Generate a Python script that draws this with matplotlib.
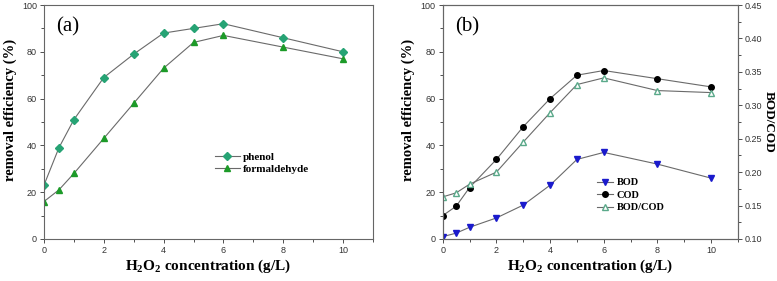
import numpy as np
import matplotlib
matplotlib.use("Agg")
import matplotlib.pyplot as plt
from matplotlib.ticker import MultipleLocator, FormatStrFormatter

# data
h2o2 = [0, 0.5, 1, 2, 3, 4, 5, 6, 8, 10]
phenol = [23, 39, 51, 69, 79, 88, 90, 92, 86, 80]
formaldehyde = [16, 21, 28, 43, 58, 73, 84, 87, 82, 77]
bod = [1, 2.5, 5, 9, 14.5, 23, 34, 37, 32, 26]
cod = [10, 14, 22, 34, 48, 60, 70, 72, 68.5, 65]
bod_cod = [0.163, 0.169, 0.182, 0.200, 0.245, 0.289, 0.331, 0.341, 0.322, 0.319]

serif = "Liberation Serif"
sans = "Liberation Sans"
line_col = "#6a6a6a"
spine_col = "#666666"

plt.rcParams["mathtext.fontset"] = "custom"
plt.rcParams["mathtext.rm"] = serif + ":bold"
plt.rcParams["mathtext.it"] = serif + ":bold"
plt.rcParams["mathtext.bf"] = serif + ":bold"

fig = plt.figure(figsize=(7.77, 2.81), dpi=100)
ax1 = fig.add_axes([0.0566, 0.1495, 0.4234, 0.8327])
ax2 = fig.add_axes([0.5698, 0.1495, 0.3800, 0.8327])


def ticks(ax):
    ax.tick_params(which="both", direction="out", labelsize=6.5, width=0.6,
                   colors="#333333", pad=2)
    ax.tick_params(which="major", length=3)
    ax.tick_params(which="minor", length=2)
    for lab in ax.get_xticklabels() + ax.get_yticklabels():
        lab.set_fontfamily(sans)


def style_axis(ax):
    ax.set_xlim(0, 11)
    ax.set_ylim(0, 100)
    ax.xaxis.set_major_locator(MultipleLocator(2))
    ax.xaxis.set_minor_locator(MultipleLocator(1))
    ax.yaxis.set_major_locator(MultipleLocator(20))
    ax.yaxis.set_minor_locator(MultipleLocator(10))
    ticks(ax)
    for s in ax.spines.values():
        s.set_linewidth(0.8)
        s.set_color(spine_col)
    ax.set_xlabel("H$_2$O$_2$ concentration (g/L)", fontfamily=serif,
                  fontweight="bold", fontsize=11, labelpad=2)
    ax.set_ylabel("removal efficiency (%)", fontfamily=serif, fontweight="bold",
                  fontsize=10.5)


# panel (a)
style_axis(ax1)
ax1.yaxis.set_label_coords(-0.082, 0.55)
ax1.plot(h2o2, phenol, color=line_col, lw=0.8, marker="D", ms=4.5,
         mfc="#26a374", mec="#26a374", label="phenol")
ax1.plot(h2o2, formaldehyde, color=line_col, lw=0.8, marker="^", ms=5,
         mfc="#1c9a28", mec="#1c9a28", label="formaldehyde")
ax1.text(0.4, 90.5, "(a)", fontfamily=serif, fontsize=15, va="center")
ax1.legend(loc="upper left", bbox_to_anchor=(0.49, 0.415), frameon=False,
           prop={"family": serif, "weight": "bold", "size": 8},
           handlelength=2.2, handletextpad=0.3, labelspacing=0.25)

# panel (b)
style_axis(ax2)
ax2.yaxis.set_label_coords(-0.095, 0.55)
ax2.plot(h2o2, bod, color=line_col, lw=0.8, marker="v", ms=4.5,
         mfc="#1a1acc", mec="#1a1acc", label="BOD")
ax2.plot(h2o2, cod, color=line_col, lw=0.8, marker="o", ms=4,
         mfc="black", mec="black", label="COD")
ax2.plot([], [], color=line_col, lw=0.8, marker="^", ms=5,
         mfc="white", mec="#5aa98a", label="BOD/COD")
ax2.text(0.45, 90.5, "(b)", fontfamily=serif, fontsize=15, va="center")

ax3 = ax2.twinx()
ax3.set_ylim(0.10, 0.45)
ax3.yaxis.set_major_locator(MultipleLocator(0.05))
ax3.yaxis.set_minor_locator(MultipleLocator(0.025))
ax3.yaxis.set_major_formatter(FormatStrFormatter("%.2f"))
ax3.plot(h2o2, bod_cod, color=line_col, lw=0.8, marker="^", ms=5,
         mfc="white", mec="#5aa98a")
ticks(ax3)
for s in ax3.spines.values():
    s.set_linewidth(0.8)
    s.set_color(spine_col)
ax3.set_ylabel("BOD/COD", fontfamily=serif, fontweight="bold", fontsize=9.5,
               rotation=270, labelpad=9)
ax2.legend(loc="upper left", bbox_to_anchor=(0.49, 0.30), frameon=False,
           prop={"family": serif, "weight": "bold", "size": 7.5},
           handlelength=1.6, handletextpad=0.3, labelspacing=0.3)

fig.savefig("out.png", dpi=100)
